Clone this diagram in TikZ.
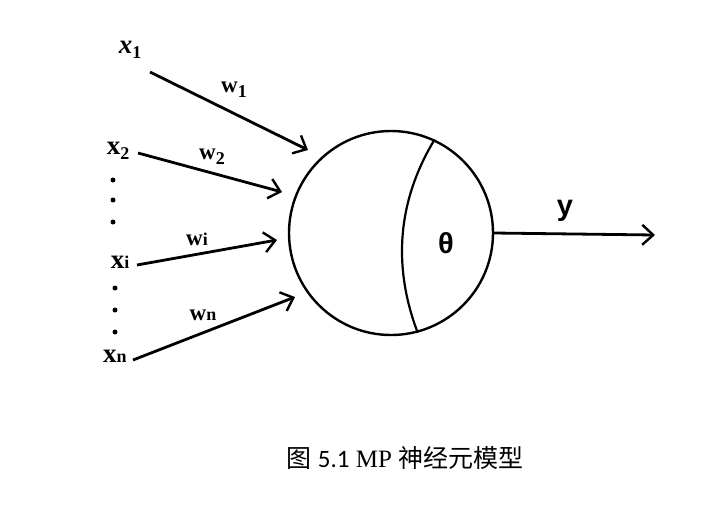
\documentclass[tikz,border=0pt]{standalone}
\usepackage{fontspec}
\setmainfont{Liberation Serif}
\newfontfamily\cjkfont{Noto Sans CJK SC}
\newfontfamily\numfont{Carlito}
\newfontfamily\labfont{Liberation Sans}
\usetikzlibrary{arrows.meta}

\newcommand{\lowsub}[1]{\raisebox{-5pt}{\fontsize{18}{18}\selectfont #1}}
\newcommand{\flatsub}[1]{{\fontsize{18}{18}\selectfont #1}}

\begin{document}
\begin{tikzpicture}[x=1pt, y=-1pt,
  xlab/.style={font=\bfseries\fontsize{27}{27}\selectfont, inner sep=0pt},
  wlab/.style={font=\bfseries\fontsize{23}{23}\selectfont, inner sep=0pt},
  inarrow/.style={line width=2.8pt, -{Straight Barb[length=11pt,width=20pt,line width=2.4pt]}}]
\useasboundingbox (0,0) rectangle (723,507);

% neuron
\node[circle, draw, line width=2.4pt, minimum size=204pt, inner sep=0pt] (neuron) at (391,233) {};
\draw[line width=2.2pt] (neuron.65) .. controls (398,200) and (392,265) .. (neuron.-75);
\node[font=\labfont\bfseries\fontsize{29}{29}\selectfont, inner sep=0pt] (theta) at (446,243) {θ};

% inputs
\node[xlab] (x1) at (130,50) {\textit{x}\lowsub{1}};
\coordinate (s1) at (150,72);
\coordinate (e1) at (308,150);
\draw[inarrow] (s1) -- (e1);
\node[wlab] (w1) at (234,90) {w\lowsub{1}};

\node[xlab] (x2) at (118,151) {x\lowsub{2}};
\coordinate (s2) at (138,153);
\coordinate (e2) at (282,192);
\draw[inarrow] (s2) -- (e2);
\node[wlab] (w2) at (212,157) {w\lowsub{2}};

\node[xlab] (xi) at (120,262) {x\flatsub{i}};
\coordinate (si) at (137,265);
\coordinate (ei) at (277,240);
\draw[inarrow] (si) -- (ei);
\node[wlab] (wi) at (197,239) {w\flatsub{i}};

\node[xlab] (xn) at (115,356) {x\flatsub{n}};
\coordinate (sn) at (133,360);
\coordinate (en) at (295,297);
\draw[inarrow] (sn) -- (en);
\node[wlab] (wn) at (203,315) {w\flatsub{n}};

% dots
\fill (113,180) circle (2.5pt);
\fill (113,200) circle (2.5pt);
\fill (113,222) circle (2.5pt);
\fill (115,288) circle (2.5pt);
\fill (115,310) circle (2.5pt);
\fill (115,332) circle (2.5pt);

% output
\coordinate (out) at (655,235);
\draw[inarrow] (neuron.east) -- (out);
\node[font=\labfont\bfseries\fontsize{29}{29}\selectfont, inner sep=0pt] (y) at (565,211) {y};

% caption
\node[font=\fontsize{25}{25}\selectfont, inner sep=0pt] (caption) at (405,458)
  {{\cjkfont 图} {\numfont 5.1} MP {\cjkfont 神经元模型}};
\end{tikzpicture}
\end{document}
